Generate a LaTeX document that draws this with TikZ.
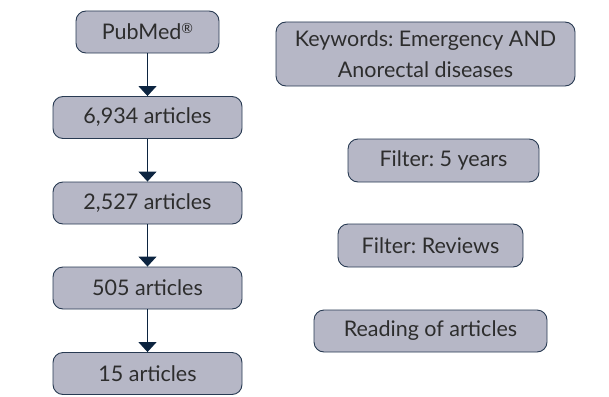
\documentclass[tikz,border=0pt]{standalone}
\usepackage{fontspec}
\setmainfont{Lato}
\usetikzlibrary{arrows.meta}
\definecolor{boxfill}{RGB}{182,183,198}
\definecolor{boxdraw}{RGB}{40,58,82}
\definecolor{arrowc}{RGB}{12,36,64}
\definecolor{txt}{RGB}{45,45,45}
\newcommand{\regmark}{\raisebox{0.55ex}{\fontsize{14}{14}\selectfont ®}}
\tikzset{
  stepbox/.style={draw=boxdraw, fill=boxfill, line width=0.9pt, rounded corners=10pt,
    text=txt, font=\fontsize{21.5}{31}\selectfont\frenchspacing, align=center, inner sep=0pt},
  flowarrow/.style={draw=arrowc, line width=1.3pt, -{Triangle[width=18pt,length=10pt]}}
}
\begin{document}
\begin{tikzpicture}[x=1pt,y=-1pt]
\useasboundingbox (0,0) rectangle (609,396);
\node[stepbox, minimum width=143pt, minimum height=42pt] (pub) at (147.5,32) {PubMed\regmark};
\node[stepbox, minimum width=189pt, minimum height=42pt] (a1) at (147.5,117.5) {6,934 articles};
\node[stepbox, minimum width=189pt, minimum height=42pt] (a2) at (147.5,203) {2,527 articles};
\node[stepbox, minimum width=189pt, minimum height=42pt] (a3) at (147.5,288) {505 articles};
\node[stepbox, minimum width=189pt, minimum height=42pt] (a4) at (147.5,373.5) {15 articles};
\draw[flowarrow] (pub) -- (a1);
\draw[flowarrow] (a1) -- (a2);
\draw[flowarrow] (a2) -- (a3);
\draw[flowarrow] (a3) -- (a4);
\node[stepbox, minimum width=299pt, minimum height=64pt] (kw) at (425.5,54) {Keywords: Emergency AND\\Anorectal diseases};
\node[stepbox, minimum width=191pt, minimum height=43pt] (f1) at (443.5,160.5) {Filter: 5 years};
\node[stepbox, minimum width=185pt, minimum height=43pt] (f2) at (430.5,245.5) {Filter: Reviews};
\node[stepbox, minimum width=233pt, minimum height=42pt] (f3) at (430.5,331) {Reading of articles};
\end{tikzpicture}
\end{document}
